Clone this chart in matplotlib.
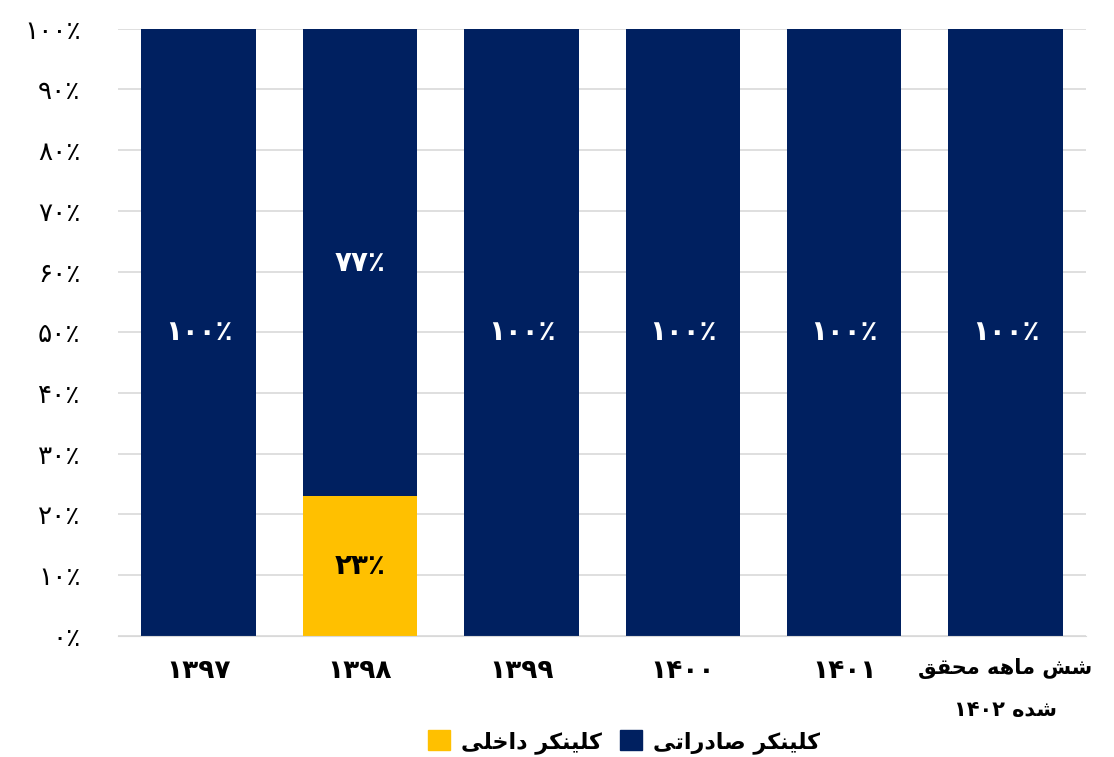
import numpy as np
import matplotlib
matplotlib.use("Agg")
import matplotlib.pyplot as plt
from matplotlib.patches import Patch

# Arabic/Persian letters -> (isolated, final, initial, medial)
FORMS = {
    'ک': ('\uFB8E', '\uFB8F', '\uFB90', '\uFB91'),
    'ل': ('\uFEDD', '\uFEDE', '\uFEDF', '\uFEE0'),
    'ی': ('\uFBFC', '\uFBFD', '\uFBFE', '\uFBFF'),
    'ن': ('\uFEE5', '\uFEE6', '\uFEE7', '\uFEE8'),
    'ر': ('\uFEAD', '\uFEAE', '\uFEAD', '\uFEAE'),
    'ص': ('\uFEB9', '\uFEBA', '\uFEBB', '\uFEBC'),
    'ا': ('\uFE8D', '\uFE8E', '\uFE8D', '\uFE8E'),
    'د': ('\uFEA9', '\uFEAA', '\uFEA9', '\uFEAA'),
    'ت': ('\uFE95', '\uFE96', '\uFE97', '\uFE98'),
    'خ': ('\uFEA5', '\uFEA6', '\uFEA7', '\uFEA8'),
    'ش': ('\uFEB5', '\uFEB6', '\uFEB7', '\uFEB8'),
    'م': ('\uFEE1', '\uFEE2', '\uFEE3', '\uFEE4'),
    'ه': ('\uFEE9', '\uFEEA', '\uFEEB', '\uFEEC'),
    'ح': ('\uFEA1', '\uFEA2', '\uFEA3', '\uFEA4'),
    'ق': ('\uFED5', '\uFED6', '\uFED7', '\uFED8'),
}
RIGHT_ONLY = set('اردذزژو')


def fa(text):
    """shape persian letters and reverse to visual order (no digits inside)"""
    out = []
    for i, c in enumerate(text):
        if c not in FORMS:
            out.append(c)
            continue
        prev = text[i - 1] if i > 0 else ''
        nxt = text[i + 1] if i + 1 < len(text) else ''
        jp = prev in FORMS and prev not in RIGHT_ONLY
        jn = c not in RIGHT_ONLY and nxt in FORMS
        iso, fin, ini, med = FORMS[c]
        if jp and jn:
            out.append(med)
        elif jp:
            out.append(fin)
        elif jn:
            out.append(ini)
        else:
            out.append(iso)
    return ''.join(out)[::-1]


# data
categories = ['۱۳۹۷', '۱۳۹۸', '۱۳۹۹', '۱۴۰۰', '۱۴۰۱',
              fa('شش ماهه محقق') + '\n' + '۱۴۰۲ ' + fa('شده')]
domestic = [0, 23, 0, 0, 0, 0]
export = [100, 77, 100, 100, 100, 100]
ytick_labels = ['۰٪', '۱۰٪', '۲۰٪', '۳۰٪', '۴۰٪', '۵۰٪',
                '۶۰٪', '۷۰٪', '۸۰٪', '۹۰٪', '۱۰۰٪']
name_domestic = fa('کلینکر داخلی')
name_export = fa('کلینکر صادراتی')

fa_digits = '۰۱۲۳۴۵۶۷۸۹'


def pct(v):
    return ''.join(fa_digits[int(d)] for d in str(v)) + '٪'


plt.rcParams['font.family'] = ['DejaVu Sans']

NAVY = '#002060'
GOLD = '#FFC000'

fig = plt.figure(figsize=(11.14, 7.57), dpi=100)
ax = fig.add_axes([0.106, 0.160, 0.869, 0.802])

x = np.arange(len(categories))
w = 0.71
dom = np.array(domestic)
exp = np.array(export)
ax.bar(x, dom, w, color=GOLD, zorder=2)
ax.bar(x, exp, w, bottom=dom, color=NAVY, zorder=2)

for i in range(len(x)):
    if dom[i] > 0:
        ax.text(x[i], dom[i] / 2, pct(dom[i]), ha='center', va='center',
                fontsize=20, fontweight='bold', color='black', zorder=3)
    if exp[i] > 0:
        ax.text(x[i], dom[i] + exp[i] / 2, pct(exp[i]), ha='center', va='center',
                fontsize=20, fontweight='bold', color='white', zorder=3)

ax.set_xlim(-0.5, len(x) - 0.5)
ax.set_ylim(0, 100)
ax.set_yticks(np.arange(0, 101, 10))
ax.set_yticklabels(ytick_labels, fontsize=19)
ax.set_xticks(x)
ax.set_xticklabels(categories, fontsize=19, fontweight='bold')
last = ax.get_xticklabels()[-1]
last.set_fontsize(15)
last.set_linespacing(2.3)
ax.tick_params(axis='y', length=0, pad=27)
ax.tick_params(axis='x', length=0, pad=16)
ax.grid(axis='y', color='#d9d9d9', linewidth=1.2, zorder=0)
for s in ['left', 'right', 'top']:
    ax.spines[s].set_visible(False)
ax.spines['bottom'].set_color('#d9d9d9')

handles = [Patch(color=GOLD, label=name_domestic), Patch(color=NAVY, label=name_export)]
fig.legend(handles=handles, loc='center', bbox_to_anchor=(0.56, 0.02), ncol=2,
           frameon=False, prop={'size': 16, 'weight': 'bold'},
           handlelength=1.0, handleheight=1.0, columnspacing=0.8, handletextpad=0.5)

fig.savefig('out.png', dpi=100)
